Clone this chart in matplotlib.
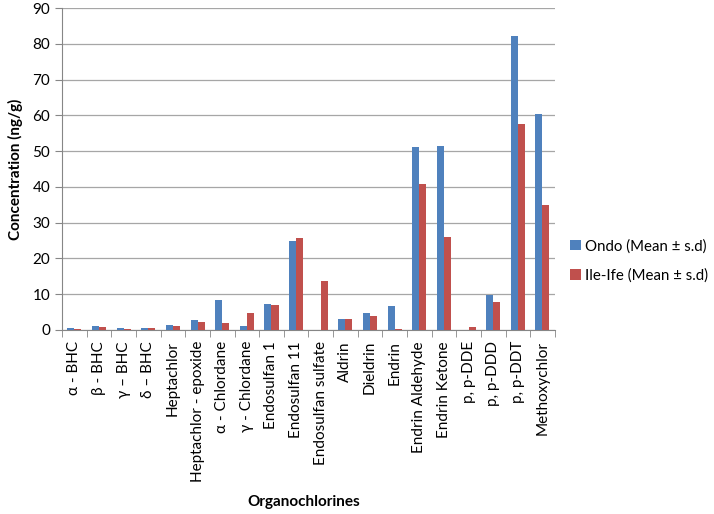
import matplotlib
matplotlib.use("Agg")
import matplotlib.pyplot as plt
import numpy as np
from matplotlib.ticker import FixedLocator

plt.rcParams['font.family'] = ['Lato', 'DejaVu Sans']

categories = ["α - BHC", "β - BHC", "γ – BHC", "δ – BHC", "Heptachlor",
              "Heptachlor - epoxide", "α - Chlordane", "γ - Chlordane",
              "Endosulfan 1", "Endosulfan 11", "Endosulfan sulfate", "Aldrin",
              "Dieldrin", "Endrin", "Endrin Aldehyde", "Endrin Ketone",
              "p, p-DDE", "p, p-DDD", "p, p-DDT", "Methoxychlor"]
ondo = [0.5, 1.0, 0.5, 0.5, 1.4, 2.8, 8.3, 1.0, 7.3, 24.8, 0.0, 3.0,
        4.7, 6.8, 51.2, 51.4, 0.0, 9.9, 82.2, 60.4]
ife = [0.3, 0.8, 0.3, 0.5, 1.2, 2.1, 2.0, 4.7, 6.9, 25.8, 13.7, 3.2,
       3.8, 0.3, 40.9, 26.0, 0.8, 7.7, 57.7, 35.0]
series_names = ["Ondo (Mean ± s.d)", "Ile-Ife (Mean ± s.d)"]
colors = ["#4F81BD", "#C0504D"]

fig = plt.figure(figsize=(7.14, 5.14), dpi=100)
ax = fig.add_axes([0.087, 0.358, 0.690, 0.626])

x = np.arange(len(categories))
w = 1 / 3.5
ax.bar(x - w / 2, ondo, width=w, color=colors[0], label=series_names[0], zorder=3)
ax.bar(x + w / 2, ife, width=w, color=colors[1], label=series_names[1], zorder=3)

ax.set_xlim(-0.5, len(categories) - 0.5)
ax.set_ylim(0, 90)
ax.set_yticks(np.arange(0, 91, 10))
ax.yaxis.grid(True, color="#A6A6A6", linewidth=0.9, zorder=0)
ax.set_axisbelow(True)

ax.set_xticks(x)
ax.set_xticklabels(categories, rotation=90, fontsize=11)
ax.tick_params(axis='x', which='major', length=0, pad=8)
ax.xaxis.set_minor_locator(FixedLocator(np.arange(-0.5, len(categories), 1)))
ax.tick_params(axis='x', which='minor', length=5, color="#868686")
ax.tick_params(axis='y', length=5, color="#868686", labelsize=11)

for s in ["top", "right"]:
    ax.spines[s].set_visible(False)
for s in ["left", "bottom"]:
    ax.spines[s].set_color("#868686")

ax.set_ylabel("Concentration (ng/g)", fontsize=11, fontweight="bold", labelpad=7)
fig.text(0.425, 0.015, "Organochlorines", fontsize=11, fontweight="bold", ha="center")

ax.legend(loc="center left", bbox_to_anchor=(1.013, 0.215), frameon=False,
          fontsize=10.8, handlelength=0.7, handleheight=0.7, handletextpad=0.3,
          labelspacing=1.0, borderaxespad=0.2)

fig.savefig("out.png", dpi=100)
